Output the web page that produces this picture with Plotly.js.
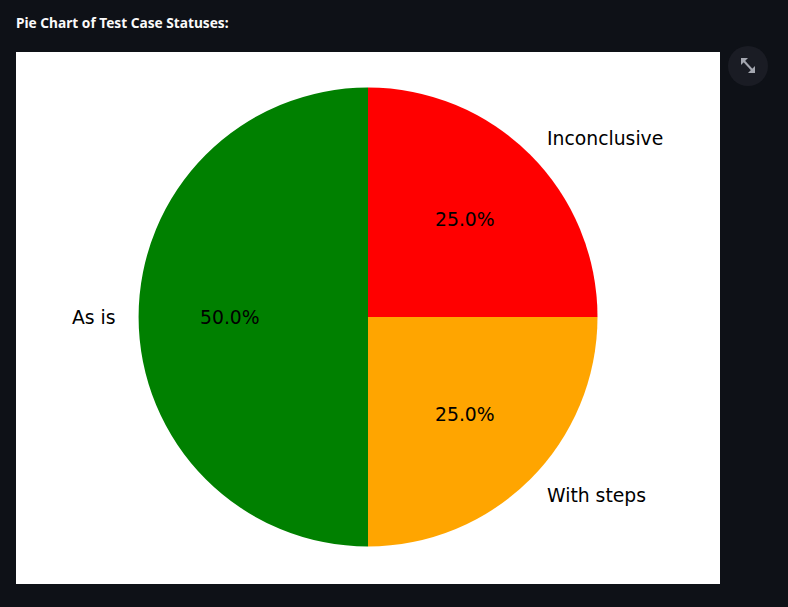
<!DOCTYPE html>
<html>
<head>
<meta charset="utf-8">
<script src="https://cdn.plot.ly/plotly-3.0.1.min.js"></script>
<style>
html,body{margin:0;padding:0;background:#0e1117;overflow:hidden;}
#chart{width:788px;height:607px;}
</style>
</head>
<body>
<div id="chart"></div>
<script>
// Data
const labels = ["Inconclusive", "With steps", "As is"];
const values = [25, 25, 50];
const colors = ["#ff0000", "#ffa500", "#008000"];
const pageTitle = "Pie Chart of Test Case Statuses:";

// Layout geometry (pixels)
const W = 788, H = 607;
const panel = {x0: 16, x1: 720, y0: 52, y1: 584};
const plotW = panel.x1 - panel.x0, plotH = panel.y1 - panel.y0;
const R = 229.5;                       // pie radius in px
const cxPx = plotW / 2, cyPx = plotH / 2 - 1;
const domX = [(cxPx - R) / plotW, (cxPx + R) / plotW];
const domY = [1 - (cyPx + R) / plotH, 1 - (cyPx - R) / plotH];

// pixel (page) -> paper helpers
const px = X => (X - panel.x0) / plotW;
const py = Y => 1 - (Y - panel.y0) / plotH;

const total = values.reduce((a, b) => a + b, 0);
const annotations = [];
let cum = 0;
const cxPaper = (domX[0] + domX[1]) / 2, cyPaper = (domY[0] + domY[1]) / 2;
const fs = 18.8;
values.forEach((v, i) => {
  const theta = 2 * Math.PI * (cum + v / 2) / total; // clockwise from 12 o'clock
  cum += v;
  const s = Math.sin(theta), c = Math.cos(theta);
  // outer label at 1.1 R
  annotations.push({
    x: cxPaper + s * 1.1 * R / plotW,
    y: cyPaper + c * 1.1 * R / plotH,
    xref: "paper", yref: "paper",
    text: labels[i], showarrow: false, borderpad: 0, borderwidth: 0,
    xanchor: s > 1e-9 ? "left" : (s < -1e-9 ? "right" : "center"),
    yanchor: "middle",
    font: {family: "DejaVu Sans", size: fs, color: "#000000"}
  });
  // percentage at 0.6 R
  annotations.push({
    x: cxPaper + s * 0.6 * R / plotW,
    y: cyPaper + c * 0.6 * R / plotH,
    xref: "paper", yref: "paper",
    text: (100 * v / total).toFixed(1) + "%", showarrow: false, borderpad: 0, borderwidth: 0,
    xanchor: "center", yanchor: "middle",
    font: {family: "DejaVu Sans", size: fs, color: "#000000"}
  });
});

const iconCol = "#a4a7b0";
const shapes = [
  // white figure panel
  {type: "rect", xref: "paper", yref: "paper", x0: 0, x1: 1, y0: 0, y1: 1,
   fillcolor: "#ffffff", line: {width: 0}, layer: "below"},
  // expand button circle
  {type: "circle", xref: "paper", yref: "paper",
   x0: px(728), x1: px(768), y0: py(86), y1: py(46),
   fillcolor: "#1a1c24", line: {width: 0}, layer: "above"},
  // expand icon
  {type: "path", xref: "paper", yref: "paper",
   path: `M${px(741)},${py(58)} L${px(748)},${py(58)} L${px(741)},${py(65)} Z`,
   fillcolor: iconCol, line: {width: 0}},
  {type: "path", xref: "paper", yref: "paper",
   path: `M${px(755)},${py(73)} L${px(748)},${py(73)} L${px(755)},${py(66)} Z`,
   fillcolor: iconCol, line: {width: 0}},
  {type: "line", xref: "paper", yref: "paper",
   x0: px(743), y0: py(60), x1: px(753), y1: py(71),
   line: {color: iconCol, width: 2}}
];

const trace = {
  type: "pie",
  labels: labels,
  values: values,
  marker: {colors: colors, line: {width: 0}},
  sort: false,
  direction: "clockwise",
  rotation: 0,
  textinfo: "none",
  hoverinfo: "skip",
  showlegend: false,
  domain: {x: domX, y: domY}
};

const layout = {
  width: W, height: H,
  paper_bgcolor: "#0e1117",
  margin: {l: panel.x0, r: W - panel.x1, t: panel.y0, b: H - panel.y1, pad: 0},
  title: {
    text: "<b>" + pageTitle + "</b>",
    xref: "container", yref: "container",
    x: 16 / W, xanchor: "left",
    y: 1 - 23 / H, yanchor: "middle",
    font: {family: "Noto Sans", size: 13.7, color: "#fafafa"}
  },
  showlegend: false,
  shapes: shapes,
  annotations: annotations
};

Plotly.newPlot("chart", [trace], layout, {displayModeBar: false, staticPlot: true});
</script>
</body>
</html>
